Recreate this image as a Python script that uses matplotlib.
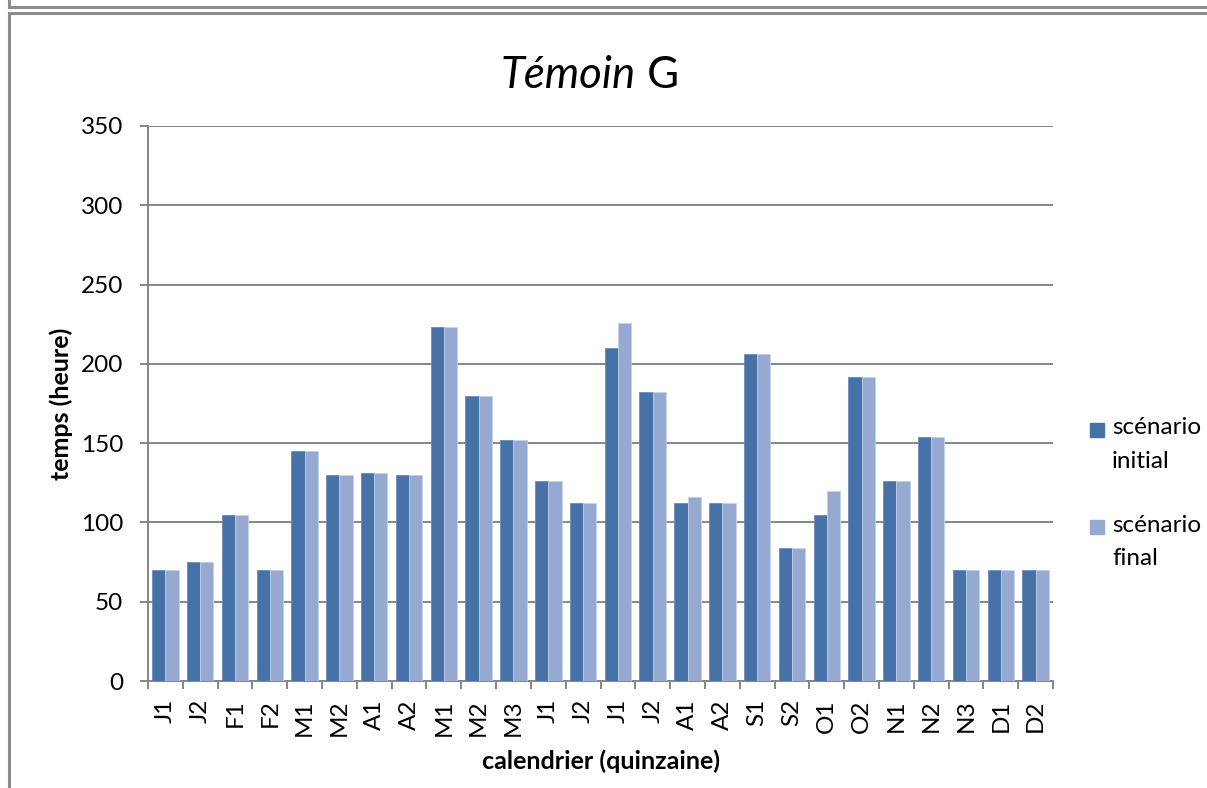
import matplotlib
matplotlib.use("Agg")
import matplotlib.pyplot as plt
import numpy as np
from matplotlib.patches import Rectangle
from matplotlib.lines import Line2D

# Fortnight labels (quinzaines) across the calendar year
categories = ["J1", "J2", "F1", "F2", "M1", "M2", "A1", "A2", "M1", "M2", "M3",
              "J1", "J2", "J1", "J2", "A1", "A2", "S1", "S2", "O1", "O2",
              "N1", "N2", "N3", "D1", "D2"]

# Working time (hours) per fortnight
initial = [70, 75, 105, 70, 145, 130, 131, 130, 223, 180, 152,
           126, 112, 210, 182, 112, 112, 206, 84, 105, 192,
           126, 154, 70, 70, 70]
final = [70, 75, 105, 70, 145, 130, 131, 130, 223, 180, 152,
         126, 112, 226, 182, 116, 112, 206, 84, 120, 192,
         126, 154, 70, 70, 70]

series_names = ["scénario\ninitial", "scénario\nfinal"]
y_ticks = [0, 50, 100, 150, 200, 250, 300, 350]

FONT = ["Lato", "DejaVu Sans"]
plt.rcParams["font.family"] = FONT

C_INIT = "#4672A7"
C_FINAL = "#95A9D1"
GRID = "#868686"

fig = plt.figure(figsize=(12.07, 7.88), dpi=100)
W, H = 1207, 788

# chart frames (this chart's border and the bottom edge of the one above)
fig.add_artist(Line2D([8.5 / W, 1.0], [1 - 6.5 / H, 1 - 6.5 / H],
                      transform=fig.transFigure, color="#8C8C8C", lw=2.2))
fig.add_artist(Line2D([8.5 / W, 8.5 / W], [1 - 6.5 / H, 1.0],
                      transform=fig.transFigure, color="#8C8C8C", lw=2.2))
fig.add_artist(Line2D([8.5 / W, 1.0], [1 - 12.5 / H, 1 - 12.5 / H],
                      transform=fig.transFigure, color="#8C8C8C", lw=2.2))
fig.add_artist(Line2D([8.5 / W, 8.5 / W], [0.0, 1 - 12.5 / H],
                      transform=fig.transFigure, color="#8C8C8C", lw=2.2))

left, right, top, bottom = 148, 1053, 126, 681
ax = fig.add_axes([left / W, 1 - bottom / H, (right - left) / W, (bottom - top) / H])

n = len(categories)
x = np.arange(n)
bw = 0.38
ax.bar(x - bw / 2, initial, width=bw, color=C_INIT, edgecolor="#6A8CBB",
       linewidth=0.6, zorder=3, label=series_names[0])
ax.bar(x + bw / 2, final, width=bw, color=C_FINAL, edgecolor="#C4D1E8",
       linewidth=0.6, zorder=3, label=series_names[1])

ax.set_xlim(-0.5, n - 0.5)
ax.set_ylim(0, 350)
ax.set_yticks(y_ticks)
ax.set_yticklabels([str(t) for t in y_ticks], fontsize=17.5)
ax.yaxis.grid(True, color=GRID, lw=1.4, zorder=0)
ax.set_axisbelow(True)

for s in ["top", "right"]:
    ax.spines[s].set_visible(False)
for s in ["left", "bottom"]:
    ax.spines[s].set_color(GRID)
    ax.spines[s].set_linewidth(1.4)

ax.tick_params(axis="y", length=5.8, width=1.4, color=GRID, pad=12)
# category tick marks between groups, labels at group centres
ax.set_xticks(np.arange(n + 1) - 0.5)
ax.set_xticklabels([])
ax.tick_params(axis="x", which="major", length=5.8, width=1.4, color=GRID)
ax.set_xticks(x, minor=True)
ax.set_xticklabels(categories, minor=True, rotation=90, fontsize=17.5)
ax.tick_params(axis="x", which="minor", length=0, pad=13)

ax.set_ylabel("temps (heure)", fontsize=18, fontweight="bold", labelpad=6)
ax.set_xlabel("calendrier (quinzaine)", fontsize=18, fontweight="bold", labelpad=10)

split_x = 636
fig.text(split_x / W, 1 - 75 / H, "Témoin", fontsize=31.5, style="italic",
         ha="right", va="center")
fig.text(split_x / W, 1 - 75 / H, " G", fontsize=31.5, ha="left", va="center")

# legend
for i, (name, col) in enumerate(zip(series_names, [C_INIT, C_FINAL])):
    yy = 430 + i * 97
    fig.add_artist(Rectangle((1090 / W, 1 - (yy + 7) / H), 14 / W, 14 / H,
                             transform=fig.transFigure, color=col))
    fig.text(1112 / W, 1 - (yy - 12.5) / H, name, fontsize=17.5, ha="left", va="top",
             linespacing=1.75)

fig.savefig("out.png", dpi=100)
